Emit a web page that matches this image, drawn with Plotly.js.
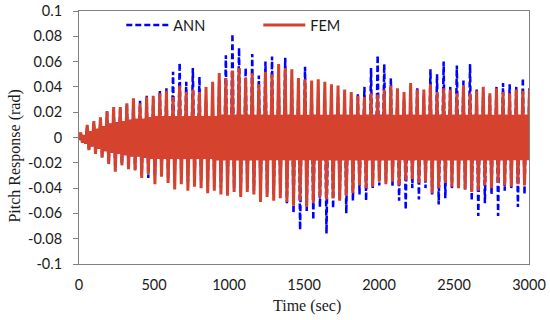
<!DOCTYPE html>
<html>
<head>
<meta charset="utf-8">
<script src="https://cdn.plot.ly/plotly-3.0.1.min.js"></script>
<style>html,body{margin:0;padding:0;background:#fff;}#chart{width:550px;height:320px;}</style>
</head>
<body>
<div id="chart"></div>
<script>
// One oscillation cycle every 44 s, sampled at 11 s:  [-band, +high, low, +band]
var cycleSeconds = 44;
var sampleSeconds = 11;

// FEM peak values per cycle (rad)
var femHigh = [0.004,0.010,0.013,0.016,0.021,0.024,0.024,0.027,0.031,0.027,
               0.032,0.033,0.035,0.037,0.032,0.041,0.036,0.038,0.036,0.040,
               0.044,0.051,0.047,0.053,0.055,0.047,0.051,0.042,0.052,0.050,
               0.058,0.055,0.054,0.047,0.046,0.045,0.046,0.044,0.042,0.041,
               0.038,0.036,0.033,0.032,0.035,0.034,0.038,0.041,0.039,0.036,
               0.043,0.038,0.038,0.042,0.036,0.039,0.038,0.035,0.041,0.035,
               0.037,0.040,0.035,0.039,0.036,0.035,0.038,0.037,0.038];
var femLow  = [-0.004,-0.010,-0.013,-0.016,-0.021,-0.027,-0.022,-0.025,-0.026,-0.032,
               -0.029,-0.037,-0.031,-0.036,-0.041,-0.037,-0.042,-0.039,-0.040,-0.044,
               -0.042,-0.045,-0.046,-0.043,-0.047,-0.043,-0.045,-0.051,-0.047,-0.050,
               -0.048,-0.051,-0.054,-0.050,-0.055,-0.052,-0.047,-0.049,-0.048,-0.050,
               -0.046,-0.044,-0.038,-0.040,-0.039,-0.035,-0.037,-0.035,-0.038,-0.034,
               -0.033,-0.036,-0.035,-0.044,-0.040,-0.036,-0.039,-0.040,-0.041,-0.043,
               -0.042,-0.038,-0.040,-0.036,-0.038,-0.039,-0.037,-0.038,-0.037];
// amplitude of the dense core between spikes
var band    = [0.002,0.005,0.007,0.009,0.011,0.012,0.013,0.014,0.015,0.015,
               0.016,0.017,0.017,0.017,0.017,0.017,0.017,0.017,0.017,0.017,
               0.017,0.018,0.018,0.018,0.018,0.018,0.018,0.018,0.018,0.018,
               0.018,0.018,0.018,0.018,0.018,0.018,0.018,0.018,0.018,0.018,
               0.018,0.018,0.018,0.018,0.018,0.018,0.018,0.018,0.018,0.018,
               0.018,0.018,0.018,0.018,0.018,0.018,0.018,0.018,0.018,0.018,
               0.018,0.018,0.018,0.018,0.018,0.018,0.018,0.018,0.018];

// ANN peak values per cycle (rad)
var annHigh = [0.004,0.009,0.012,0.015,0.020,0.022,0.023,0.026,0.029,0.029,
               0.033,0.030,0.037,0.039,0.052,0.059,0.044,0.055,0.048,0.030,
               0.028,0.045,0.065,0.082,0.071,0.055,0.066,0.049,0.060,0.064,
               0.050,0.063,0.045,0.040,0.056,0.040,0.035,0.030,0.030,0.032,
               0.033,0.030,0.035,0.040,0.055,0.065,0.058,0.047,0.035,0.030,
               0.035,0.040,0.033,0.054,0.050,0.060,0.040,0.057,0.045,0.058,
               0.038,0.036,0.034,0.040,0.043,0.042,0.040,0.047,0.040];
var annLow  = [-0.004,-0.009,-0.012,-0.015,-0.020,-0.025,-0.021,-0.024,-0.025,-0.030,
               -0.032,-0.031,-0.030,-0.033,-0.030,-0.033,-0.035,-0.036,-0.034,-0.038,
               -0.036,-0.040,-0.042,-0.040,-0.044,-0.040,-0.042,-0.045,-0.044,-0.046,
               -0.045,-0.052,-0.060,-0.073,-0.058,-0.065,-0.055,-0.076,-0.056,-0.050,
               -0.060,-0.050,-0.045,-0.050,-0.040,-0.038,-0.035,-0.039,-0.050,-0.057,
               -0.040,-0.049,-0.040,-0.045,-0.053,-0.048,-0.040,-0.035,-0.041,-0.050,
               -0.062,-0.052,-0.045,-0.062,-0.042,-0.040,-0.055,-0.045,-0.040];

var xTicks = [0,500,1000,1500,2000,2500,3000];
var yTicks = [-0.1,-0.08,-0.06,-0.04,-0.02,0,0.02,0.04,0.06,0.08,0.1];
var yTickText = ["-0.1","-0.08","-0.06","-0.04","-0.02","0","0.02","0.04","0.06","0.08","0.1"];

function buildSeries(high, low, core) {
  var t = [], v = [];
  for (var i = 0; i < high.length; i++) {
    var t0 = i * cycleSeconds;
    t.push(t0, t0 + sampleSeconds, t0 + 2 * sampleSeconds, t0 + 3 * sampleSeconds);
    v.push(-core[i], high[i], low[i], core[i]);
  }
  return {t: t, v: v};
}
var fem = buildSeries(femHigh, femLow, band);
var ann = buildSeries(annHigh, annLow, band);

var traces = [
  {x: ann.t, y: ann.v, type: 'scatter', mode: 'lines', name: 'ANN',
   line: {color: '#0000FF', width: 2.5, dash: '6px,3px'}},
  {x: fem.t, y: fem.v, type: 'scatter', mode: 'lines', name: 'FEM',
   line: {color: '#D5432F', width: 3}}
];

var tickFont = {family: 'Lato, "Liberation Sans", sans-serif', size: 14.5, color: '#1a1a1a'};
var layout = {
  width: 550, height: 320,
  margin: {l: 79, r: 21, t: 10, b: 56},
  paper_bgcolor: '#fff', plot_bgcolor: '#fff',
  showlegend: true,
  legend: {orientation: 'h', x: 0.094, xanchor: 'left', y: 0.941, yanchor: 'middle',
           bgcolor: 'rgba(0,0,0,0)', itemwidth: 42, font: tickFont, entrywidth: 80},
  xaxis: {range: [0, 3000], tickvals: xTicks, ticktext: xTicks.map(String),
          showgrid: false, zeroline: false, showline: true, mirror: true,
          linecolor: '#808080', linewidth: 1, ticks: '', tickfont: tickFont,
          ticklabelstandoff: 8},
  yaxis: {range: [-0.1, 0.1], tickvals: yTicks, ticktext: yTickText,
          showgrid: false, zeroline: false, showline: true, mirror: true,
          linecolor: '#808080', linewidth: 1, ticks: 'outside', ticklen: 5,
          tickcolor: '#808080', tickfont: tickFont, ticklabelstandoff: 8},
  annotations: [
    {text: 'Pitch Response (rad)', xref: 'paper', yref: 'paper', x: -0.142, y: 0.425,
     textangle: -90, showarrow: false, xanchor: 'center', yanchor: 'middle',
     font: {family: '"Liberation Serif", "Times New Roman", serif', size: 16, color: '#1a1a1a'}},
    {text: 'Time (sec)', xref: 'paper', yref: 'paper', x: 0.507, y: -0.165,
     showarrow: false, xanchor: 'center', yanchor: 'middle',
     font: {family: '"Liberation Serif", "Times New Roman", serif', size: 16, color: '#1a1a1a'}}
  ]
};
Plotly.newPlot('chart', traces, layout, {displayModeBar: false, staticPlot: true});
</script>
</body>
</html>
